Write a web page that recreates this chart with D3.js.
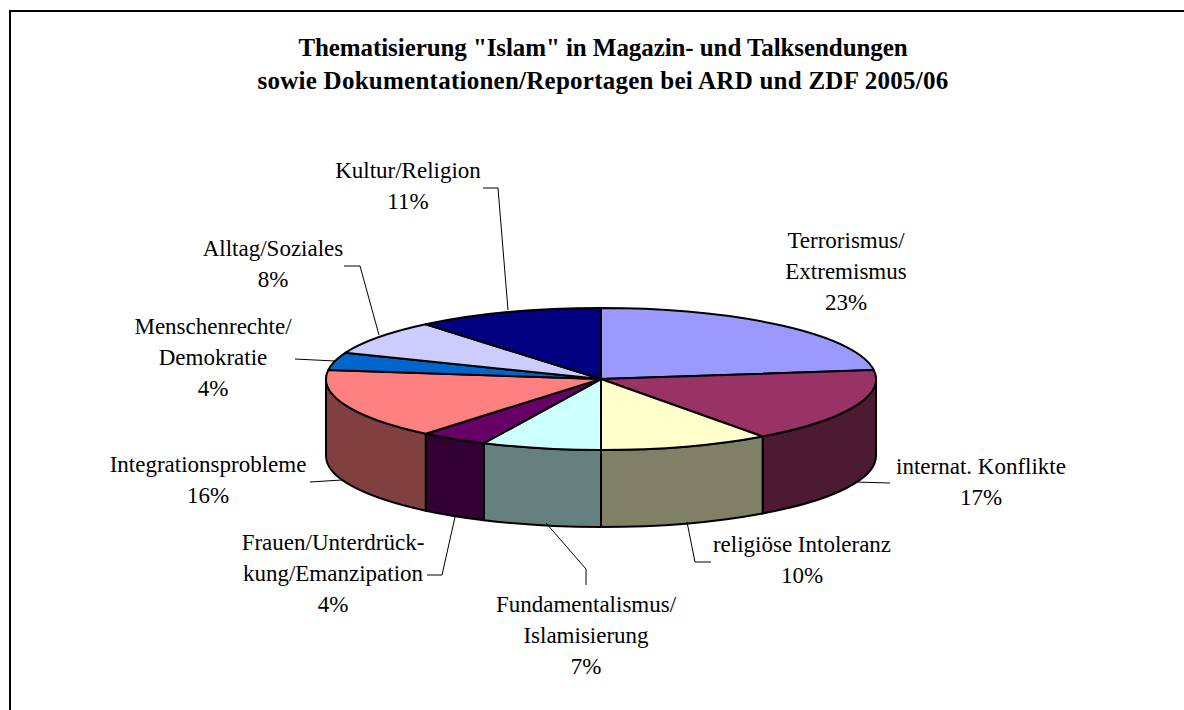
<!DOCTYPE html>
<html>
<head>
<meta charset="utf-8">
<script src="https://cdn.jsdelivr.net/npm/d3@7"></script>
<style>
  body { margin: 0; background: #fff; }
  text { font-family: "Liberation Serif", serif; fill: #000; }
</style>
</head>
<body>
<svg></svg>
<script>
const WIDTH = 1184;
const HEIGHT = 710;

const titleLines = [
  'Thematisierung "Islam" in Magazin- und Talksendungen',
  "sowie Dokumentationen/Reportagen bei ARD und ZDF 2005/06"
];

const categories = [
  ["Terrorismus/", "Extremismus"],
  ["internat. Konflikte"],
  ["religiöse Intoleranz"],
  ["Fundamentalismus/", "Islamisierung"],
  ["Frauen/Unterdrück-", "kung/Emanzipation"],
  ["Integrationsprobleme"],
  ["Menschenrechte/", "Demokratie"],
  ["Alltag/Soziales"],
  ["Kultur/Religion"]
];
const shares = [23, 17, 10, 7, 4, 16, 4, 8, 11];

const topColors = ["#9999ff", "#993366", "#ffffcc", "#ccffff", "#660066", "#ff8080", "#0066cc", "#ccccff", "#000080"];
const sideColors = ["#4d4d80", "#4d1a33", "#808066", "#668080", "#330033", "#804040", "#003366", "#666680", "#000040"];

// where each label block is centred (x, first baseline), same order as categories
const labelPos = [
  [846, 248], [981, 474], [802, 552], [586, 612], [333, 550],
  [208, 472], [213, 334], [273, 256], [408, 178]
];
// leader lines, same order as categories (Terrorismus has none)
const leaders = [
  null,
  [[855, 482], [890, 483]],
  [[687, 522], [695, 562], [711, 562]],
  [[546, 523], [586, 569], [586, 585]],
  [[455, 517], [442, 575], [427, 575]],
  [[342, 480], [310, 482]],
  [[335, 361], [295, 359]],
  [[379, 335], [360, 266], [344, 266]],
  [[508, 310], [498, 188], [483, 188]]
];

const cx = 601, cy = 379, rx = 275, ry = 71, depth = 77;

const svg = d3.select("svg").attr("width", WIDTH).attr("height", HEIGHT).style("display", "block");

const frame = d3.path();
frame.moveTo(10, HEIGHT);
frame.lineTo(10, 11);
frame.lineTo(WIDTH, 11);
svg.append("path").attr("d", frame.toString()).attr("fill", "none").attr("stroke", "#000").attr("stroke-width", 2);

svg.append("g").selectAll("text").data(titleLines).enter().append("text")
  .attr("x", 603)
  .attr("y", (d, i) => 56 + i * 33)
  .attr("text-anchor", "middle")
  .attr("font-weight", "bold")
  .attr("font-size", 25)
  .attr("letter-spacing", (d, i) => (i ? 0.25 : -0.08))
  .text((d) => d);

const slices = d3.pie().sort(null)(shares);

function px(a) { return cx + rx * Math.sin(a); }
function py(a, dz) { return cy - ry * Math.cos(a) + dz; }

function arcTo(a, dz, sweep) {
  return `A${rx},${ry} 0 0 ${sweep} ${px(a)},${py(a, dz)}`;
}

const pie = svg.append("g").attr("stroke", "#000").attr("stroke-width", 2).attr("stroke-linejoin", "round");

// side wall only exists on the front half of the ellipse
pie.selectAll(".side")
  .data(slices.filter((d) => d.endAngle > Math.PI / 2 && d.startAngle < 3 * Math.PI / 2))
  .enter()
  .append("path")
  .classed("side", true)
  .attr("fill", (d) => sideColors[d.index])
  .attr("d", (d) => {
    const a0 = Math.max(d.startAngle, Math.PI / 2);
    const a1 = Math.min(d.endAngle, 3 * Math.PI / 2);
    return `M${px(a0)},${py(a0, 0)}${arcTo(a1, 0, 1)}L${px(a1)},${py(a1, depth)}${arcTo(a0, depth, 0)}Z`;
  });

pie.selectAll(".top")
  .data(slices)
  .enter()
  .append("path")
  .classed("top", true)
  .attr("fill", (d) => topColors[d.index])
  .attr("d", (d) => `M${cx},${cy}L${px(d.startAngle)},${py(d.startAngle, 0)}${arcTo(d.endAngle, 0, 1)}Z`);

svg.append("g").selectAll("path").data(leaders.filter(Boolean)).enter().append("path")
  .attr("d", d3.line())
  .attr("fill", "none")
  .attr("stroke", "#000")
  .attr("stroke-width", 1);

const labels = svg.append("g").selectAll("text").data(slices).enter().append("text")
  .attr("text-anchor", "middle")
  .attr("font-size", 23);

labels.selectAll("tspan")
  .data((d) => categories[d.index].concat(`${d.value}%`).map((t, i) => ({ t, i, pos: labelPos[d.index] })))
  .enter()
  .append("tspan")
  .attr("x", (d) => d.pos[0])
  .attr("y", (d) => d.pos[1] + d.i * 31)
  .text((d) => d.t);
</script>
</body>
</html>
